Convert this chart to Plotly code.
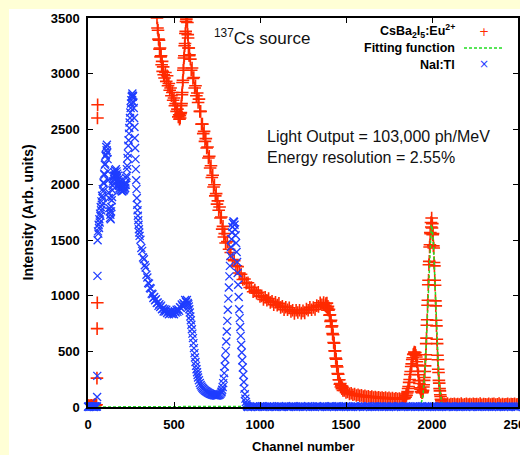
import plotly.graph_objects as go

# ---------------------------------------------------------------
# Spectrum data: channel number -> intensity (arb. units)
# ---------------------------------------------------------------

# CsBa2I5:Eu2+ spectrum, sampled in segments
red_ch_a = list(range(0, 51, 5))
red_ct_a = [10, 14, 8, 12, 16, 9, 13, 18, 22, 15, 20]
red_ch_b = [52, 53, 54, 55, 56]
red_ct_b = [260, 705, 938, 2600, 2720]
red_ch_c = list(range(395, 441, 3))
red_ct_c = [3580, 3520, 3500, 3410, 3390, 3310, 3300, 3220, 3230, 3150, 3160, 3080,
            3110, 3020, 3060, 2990]
red_ch_d = list(range(445, 531, 5))
red_ct_d = [2960, 3010, 2930, 2980, 2890, 2910, 2850, 2870, 2800, 2830, 2760, 2780,
            2710, 2730, 2660, 2680, 2610, 2630]
red_ch_e = list(range(532, 591, 2))
red_ct_e = [2590, 2620, 2600, 2640, 2650, 2710, 2730, 2810, 2830, 2920,
            2940, 3030, 3050, 3140, 3160, 3250, 3270, 3360, 3380, 3470,
            3490, 3560, 3510, 3460, 3350, 3320, 3230, 3230, 3160, 3170]
red_ch_f = list(range(595, 801, 5))
red_ct_f = [3130, 3030, 3050, 2955, 2965, 2870, 2890, 2800, 2825, 2740,
            2770, 2660, 2660, 2545, 2545, 2460, 2480, 2390, 2415, 2330,
            2340, 2240, 2255, 2150, 2170, 2065, 2085, 1980, 2000, 1900,
            1920, 1825, 1855, 1770, 1800, 1700, 1710, 1600, 1625, 1530,
            1560, 1475]
red_ch_g = list(range(810, 1381, 10))
red_ct_g = [1488, 1420, 1390, 1327, 1317, 1270, 1263, 1205, 1195, 1147,
            1152, 1115, 1118, 1075, 1075, 1037, 1052, 1025, 1033, 995,
            1000, 967, 987, 960, 976, 940, 950, 920, 942, 917,
            933, 895, 905, 875, 898, 875, 893, 860, 870, 842,
            870, 850, 871, 845, 865, 847, 882, 870, 898, 875,
            895, 877, 912, 905, 938, 920, 940, 912]
red_ch_h = list(range(1383, 1483, 3))
red_ct_h = [930, 900, 935, 890, 905, 870, 880, 825, 830, 770,
            780, 720, 730, 660, 650, 580, 575, 505, 505, 440,
            430, 370, 360, 300, 295, 245, 245, 205, 210, 180,
            190, 165, 175, 150]
red_ch_i = list(range(1490, 1831, 10))
red_ct_i = [150, 132, 136, 118, 124, 110, 116, 104, 110, 100,
            105, 95, 101, 91, 97, 88, 93, 85, 90, 83,
            88, 80, 86, 78, 84, 76, 82, 74, 80, 72,
            78, 71, 77, 70, 76]
red_ch_j = list(range(1834, 1943, 3))
red_ct_j = [75, 80, 78, 88, 88, 102, 106, 126, 138, 166,
            185, 222, 248, 292, 320, 365, 388, 428, 443, 473,
            478, 495, 488, 490, 466, 450, 407, 377, 322, 290,
            237, 212, 172, 160, 138, 137, 128]
red_ch_k = list(range(1944, 2061, 2))
red_ct_k = [130, 140, 150, 180, 200, 240, 265, 320, 370, 430,
            470, 570, 620, 735, 785, 915, 960, 1100, 1140, 1280,
            1310, 1440, 1460, 1570, 1560, 1660, 1620, 1700, 1610, 1650,
            1550, 1560, 1450, 1430, 1300, 1270, 1140, 1095, 955, 910,
            780, 730, 610, 570, 465, 425, 340, 310, 240, 215,
            165, 145, 110, 95, 70, 60, 45, 38, 30]
red_ch_l = list(range(2070, 2501, 10))
red_ct_l = [28, 22, 30, 20, 26, 24, 29, 21, 27, 23,
            30, 20, 25, 28, 22, 27, 21, 29, 24, 26,
            22, 30, 20, 27, 25, 23, 29, 21, 26, 28,
            22, 24, 30, 20, 27, 23, 25, 29, 21, 26,
            24, 28, 22, 25]

# Gaussian fit of the 662 keV photopeak
fit_ch = [0, 1930] + list(range(1936, 2061, 4)) + [2070, 2500]
fit_ct = [0, 12,
          28, 46, 74, 115, 173, 252, 354, 481, 631, 800, 981, 1163, 1332, 1475, 1579, 1633,
          1633, 1579, 1475, 1332, 1163, 981, 800, 631, 481, 354, 252, 173, 115, 74, 46, 28,
          7, 0]

# NaI:Tl reference spectrum
blue_ch_a = list(range(0, 53, 4))
blue_ct_a = [2, 6, 0, 4, 8, 1, 5, 3, 7, 0, 6, 4, 2, 5]
blue_ch_b = [53, 54, 55]
blue_ct_b = [90, 280, 1180]
blue_ch_c = list(range(56, 301, 2))
blue_ct_c = [1500, 1580, 1560, 1640, 1610, 1690, 1660, 1740, 1720, 1800,
             1770, 1850, 1820, 1900, 1880, 1960, 1940, 2020, 2010, 2100,
             2090, 2180, 2190, 2260, 2270, 2340, 2310, 2360, 2290, 2230,
             2120, 2040, 1930, 1880, 1790, 1760, 1700, 1730, 1690, 1760,
             1800, 1860, 1890, 1950, 1990, 2030, 2010, 2080, 2050, 2110,
             2080, 2130, 2090, 2140, 2080, 2120, 2060, 2100, 2040, 2080,
             2010, 2050, 1990, 2030, 1970, 2010, 1960, 2000, 1950, 1990,
             1940, 1980, 1940, 1980, 1950, 1990, 1950, 1990, 1960, 2000,
             1970, 2020, 2000, 2060, 2080, 2140, 2170, 2240, 2280, 2350,
             2400, 2460, 2510, 2560, 2600, 2650, 2690, 2730, 2760, 2790,
             2800, 2820, 2790, 2800, 2740, 2690, 2600, 2520, 2420, 2330,
             2230, 2140, 2040, 1960, 1880, 1820, 1770, 1720, 1680, 1640,
             1600, 1570, 1540]
blue_ch_d = list(range(305, 581, 5))
blue_ct_d = [1505, 1430, 1405, 1345, 1330, 1275, 1255, 1190, 1165, 1115,
             1110, 1070, 1065, 1020, 1015, 980, 990, 960, 970, 935,
             940, 910, 925, 900, 912, 880, 887, 860, 880, 860,
             875, 845, 857, 835, 858, 841, 860, 836, 852, 834,
             862, 851, 875, 856, 877, 865, 898, 892, 922, 907,
             933, 923, 962, 945, 963, 935]
blue_ch_e = list(range(583, 641, 3))
blue_ct_e = [925, 905, 880, 850, 815, 780, 740, 700, 660, 620,
             575, 530, 485, 445, 405, 370, 340, 312, 288, 266]
blue_ch_f = list(range(645, 776, 5))
blue_ct_f = [240, 216, 198, 184, 173, 164, 156, 149, 143, 137,
             132, 127, 123, 119, 116, 113, 110, 108, 106, 105,
             104, 104, 105, 107, 111, 118, 130]
blue_ch_g = list(range(777, 931, 3))
blue_ct_g = [140, 155, 180, 215, 255, 305, 365, 430, 505, 590,
             680, 775, 875, 975, 1075, 1175, 1270, 1360, 1440, 1510,
             1570, 1620, 1655, 1670, 1665, 1640, 1600, 1545, 1475, 1395,
             1305, 1205, 1100, 990, 880, 800, 720, 640, 560, 490,
             420, 355, 290, 225, 165, 115, 75, 45, 25, 12,
             5, 0]
blue_ch_h = list(range(940, 2501, 10))
blue_ct_h = [3, 0, 5, 2, 6, 1, 4, 7, 0, 3,
             5, 2, 6, 1, 4, 0, 3, 7, 2, 5,
             1, 6, 3, 0, 4, 7, 2, 5, 1, 3,
             6, 0, 4, 2, 7, 1, 5, 3, 0, 6,
             2, 4, 1, 7, 3, 0, 5, 2, 6, 1,
             4, 7, 0, 3, 5, 2, 6, 1, 4, 0,
             3, 6, 2, 5, 1, 7, 0, 4, 2, 6,
             1, 3, 5, 0, 6, 2, 4, 7, 1, 3,
             5, 0, 2, 6, 3, 1, 7, 4, 0, 5,
             2, 6, 4, 1, 3, 5, 0, 7, 2, 4,
             6, 1, 3, 0, 5, 2, 7, 4, 1, 3,
             0, 5, 2, 6, 4, 1, 3, 7, 0, 2,
             4, 2, 6, 1, 3, 5, 0, 6, 2, 4,
             1, 7, 3, 0, 5, 2, 4, 6, 1, 3,
             5, 0, 6, 2, 4, 1, 3, 7, 0, 5,
             2, 4, 1, 6, 3, 0, 5]

# Axis ticks and labels
x_ticks = [0, 500, 1000, 1500, 2000, 2500]
y_ticks = [0, 500, 1000, 1500, 2000, 2500, 3000, 3500]

name_red = "CsBa<sub>2</sub>I<sub>5</sub>:Eu<sup>2+</sup>"
name_fit = "Fitting function"
name_blue = "NaI:Tl"
source_text = "<sup>137</sup>Cs source"
info_lines = ["Light Output = 103,000 ph/MeV", "Energy resolution = 2.55%"]
x_title = "Channel number"
y_title = "Intensity (Arb. units)"


def join(*segments):
    xs, ys = [], []
    for ch, ct in segments:
        assert len(ch) == len(ct), (ch[0], len(ch), len(ct))
        xs += list(ch)
        ys += list(ct)
    return xs, ys


red_x, red_y = join((red_ch_a, red_ct_a), (red_ch_b, red_ct_b), (red_ch_c, red_ct_c),
                    (red_ch_d, red_ct_d), (red_ch_e, red_ct_e), (red_ch_f, red_ct_f),
                    (red_ch_g, red_ct_g), (red_ch_h, red_ct_h), (red_ch_i, red_ct_i),
                    (red_ch_j, red_ct_j), (red_ch_k, red_ct_k), (red_ch_l, red_ct_l))
fit_x, fit_y = join((fit_ch, fit_ct))
blue_x, blue_y = join((blue_ch_a, blue_ct_a), (blue_ch_b, blue_ct_b), (blue_ch_c, blue_ct_c),
                      (blue_ch_d, blue_ct_d), (blue_ch_e, blue_ct_e), (blue_ch_f, blue_ct_f),
                      (blue_ch_g, blue_ct_g), (blue_ch_h, blue_ct_h))

# ---------------------------------------------------------------
# Styling
# ---------------------------------------------------------------
RED = "#ff2a00"
BLUE = "#1f3dff"
GREEN = "#22dd22"
PAGE = "#ffffd6"

W, H = 520, 455
ML, MR, MT, MB = 88, 2, 18, 48
PW, PH = W - ML - MR, H - MT - MB


def px(xp):
    return (xp - ML) / PW


def py(yp):
    return (H - MB - yp) / PH


fig = go.Figure()
fig.add_trace(go.Scatter(
    x=red_x, y=red_y, mode="markers", name=name_red,
    marker=dict(symbol="cross-thin", size=9, color=RED, line=dict(width=1.6, color=RED)),
))
fig.add_trace(go.Scatter(
    x=fit_x, y=fit_y, mode="lines", name=name_fit,
    line=dict(color=GREEN, width=1.5, dash="3px,2px"),
))
fig.add_trace(go.Scatter(
    x=blue_x, y=blue_y, mode="markers", name=name_blue, cliponaxis=False,
    marker=dict(symbol="x-thin", size=8, color=BLUE, line=dict(width=1.3, color=BLUE)),
))

tick_font = dict(family="Liberation Sans, Arial, sans-serif", size=13, color="black", weight="bold")
axis_common = dict(
    showgrid=False, zeroline=False, showline=True, linecolor="black", linewidth=1.5,
    mirror="ticks", ticks="inside", ticklen=5, tickwidth=1, tickcolor="black",
    tickfont=tick_font, tickformat="d", ticklabeloverflow="allow", automargin=False,
)
fig.update_xaxes(range=[0, 2500], tickvals=x_ticks, ticklabelstandoff=5, **axis_common)
fig.update_yaxes(range=[0, 3500], tickvals=y_ticks, ticklabelstandoff=4, **axis_common)

label_font = dict(family="Liberation Sans, Arial, sans-serif", size=13, color="black", weight="bold")
legend_font = dict(family="Liberation Sans, Arial, sans-serif", size=12.5, color="black", weight="bold")
note_font = dict(family="Liberation Sans, Arial, sans-serif", size=16, color="#111111")

annotations = [
    dict(text=x_title, x=0.5, y=py(446), xref="paper", yref="paper",
         xanchor="center", yanchor="middle", showarrow=False, font=label_font),
    dict(text=y_title, x=px(27), y=0.5, xref="paper", yref="paper", textangle=-90,
         xanchor="center", yanchor="middle", showarrow=False, font=dict(label_font, size=14)),
    dict(text=source_text, x=px(212), y=py(37), xref="paper", yref="paper",
         xanchor="left", yanchor="middle", showarrow=False, font=dict(note_font, size=17)),
    dict(text=info_lines[0], x=px(265), y=py(136), xref="paper", yref="paper",
         xanchor="left", yanchor="middle", showarrow=False, font=note_font),
    dict(text=info_lines[1], x=px(265), y=py(157), xref="paper", yref="paper",
         xanchor="left", yanchor="middle", showarrow=False, font=note_font),
    # legend entries: label on the left, sample on the right
    dict(text=name_red, x=px(457), y=py(31), xref="paper", yref="paper",
         xanchor="right", yanchor="middle", showarrow=False, font=legend_font),
    dict(text=name_fit, x=px(457), y=py(48), xref="paper", yref="paper",
         xanchor="right", yanchor="middle", showarrow=False, font=legend_font),
    dict(text=name_blue, x=px(457), y=py(65), xref="paper", yref="paper",
         xanchor="right", yanchor="middle", showarrow=False, font=legend_font),
    dict(text="+", x=px(484), y=py(32), xref="paper", yref="paper",
         xanchor="center", yanchor="middle", showarrow=False,
         font=dict(family="DejaVu Sans", size=12, color=RED)),
    dict(text="×", x=px(484), y=py(64), xref="paper", yref="paper",
         xanchor="center", yanchor="middle", showarrow=False,
         font=dict(family="DejaVu Sans", size=12, color=BLUE)),
]

shapes = [
    # white page panel on the pale-yellow background
    dict(type="rect", xref="paper", yref="paper", x0=px(9), x1=px(522), y0=py(458), y1=py(9),
         fillcolor="white", line=dict(width=0), layer="below"),
    # legend sample for the fitting function
    dict(type="line", xref="paper", yref="paper", x0=px(464), x1=px(502), y0=py(48), y1=py(48),
         line=dict(color=GREEN, width=1.5, dash="3px,2px")),
]

fig.update_layout(
    width=W, height=H, margin=dict(l=ML, r=MR, t=MT, b=MB, autoexpand=False),
    paper_bgcolor=PAGE, plot_bgcolor="white", showlegend=False,
    annotations=annotations, shapes=shapes,
)

fig.write_html("out.html", config={"displayModeBar": False})
